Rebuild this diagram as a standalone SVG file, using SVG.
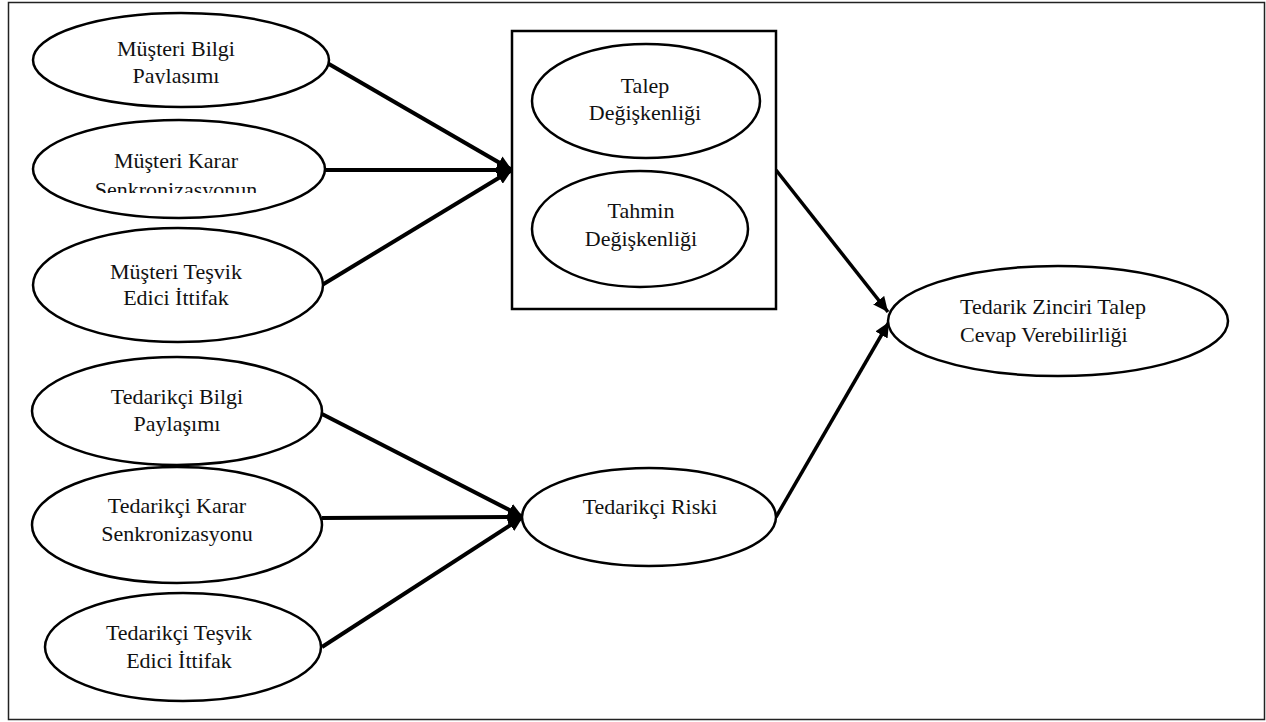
<svg xmlns="http://www.w3.org/2000/svg" width="1266" height="722" viewBox="0 0 1266 722">
<style>
.n{fill:#fff;stroke:#000;stroke-width:2.5}
.t{font-family:"Liberation Serif","Times New Roman",serif;font-size:22px;fill:#111;text-anchor:middle}
.tl{text-anchor:start}
.c{fill:none;stroke:#000;stroke-width:4}
.c3{fill:none;stroke:#000;stroke-width:3.5}
</style>
<defs>
<marker id="ah" markerUnits="userSpaceOnUse" markerWidth="16" markerHeight="14" refX="15" refY="7" orient="auto">
<path d="M0,0 L15,7 L0,14 Z" fill="#000"/>
</marker>
<clipPath id="cp1"><rect x="0" y="0" width="400" height="84"/></clipPath>
<clipPath id="cp2"><rect x="0" y="100" width="400" height="93"/></clipPath>
</defs>
<rect x="8.5" y="2.5" width="1256" height="717" fill="#fff" stroke="#222" stroke-width="1.5"/>
<g id="connectors">
<line class="c" x1="322" y1="60" x2="512" y2="170" marker-end="url(#ah)"/>
<line class="c" x1="322" y1="170" x2="512" y2="170" marker-end="url(#ah)"/>
<line class="c" x1="322" y1="285" x2="512" y2="170" marker-end="url(#ah)"/>
<line class="c" x1="322" y1="414" x2="523" y2="517" marker-end="url(#ah)"/>
<line class="c" x1="322" y1="518" x2="523" y2="517" marker-end="url(#ah)"/>
<line class="c" x1="322" y1="647" x2="523" y2="517" marker-end="url(#ah)"/>
<line class="c3" x1="776" y1="170" x2="888" y2="312" marker-end="url(#ah)"/>
<line class="c3" x1="776" y1="517" x2="889" y2="322" marker-end="url(#ah)"/>
</g>
<g id="n1">
<ellipse class="n" cx="181" cy="60" rx="148" ry="47"/>
<g clip-path="url(#cp1)">
<text class="t" x="176" y="56">Müşteri Bilgi</text>
<text class="t" x="176" y="83">Paylaşımı</text>
</g>
</g>
<g id="n2">
<ellipse class="n" cx="179" cy="169" rx="146" ry="49"/>
<g clip-path="url(#cp2)">
<text class="t" x="176" y="168">Müşteri Karar</text>
<text class="t" x="176" y="197">Senkronizasyonun</text>
</g>
</g>
<g id="n3">
<ellipse class="n" cx="178" cy="285" rx="145" ry="57"/>
<text class="t" x="176" y="279">Müşteri Teşvik</text>
<text class="t" x="176" y="305">Edici İttifak</text>
</g>
<g id="n4">
<ellipse class="n" cx="177" cy="411" rx="145" ry="54"/>
<text class="t" x="177" y="404">Tedarikçi Bilgi</text>
<text class="t" x="177" y="431">Paylaşımı</text>
</g>
<g id="n5">
<ellipse class="n" cx="177" cy="525" rx="145" ry="58"/>
<text class="t" x="177" y="513">Tedarikçi Karar</text>
<text class="t" x="177" y="541">Senkronizasyonu</text>
</g>
<g id="n6">
<ellipse class="n" cx="183" cy="647" rx="138" ry="54"/>
<text class="t" x="179" y="640">Tedarikçi Teşvik</text>
<text class="t" x="179" y="668">Edici İttifak</text>
</g>
<g id="box">
<rect x="512" y="31" width="264" height="278" fill="#fff" stroke="#000" stroke-width="2.5"/>
</g>
<g id="n7">
<ellipse class="n" cx="646" cy="101" rx="114" ry="57"/>
<text class="t" x="645" y="93">Talep</text>
<text class="t" x="645" y="120">Değişkenliği</text>
</g>
<g id="n8">
<ellipse class="n" cx="640" cy="229" rx="108" ry="58"/>
<text class="t" x="641" y="218">Tahmin</text>
<text class="t" x="641" y="246">Değişkenliği</text>
</g>
<g id="n9">
<ellipse class="n" cx="649" cy="517" rx="127" ry="49"/>
<text class="t" x="650" y="514">Tedarikçi Riski</text>
</g>
<g id="n10">
<ellipse class="n" cx="1058" cy="321" rx="170" ry="55"/>
<text class="t tl" x="960" y="314">Tedarik Zinciri Talep</text>
<text class="t tl" x="960" y="342">Cevap Verebilirliği</text>
</g>
</svg>
